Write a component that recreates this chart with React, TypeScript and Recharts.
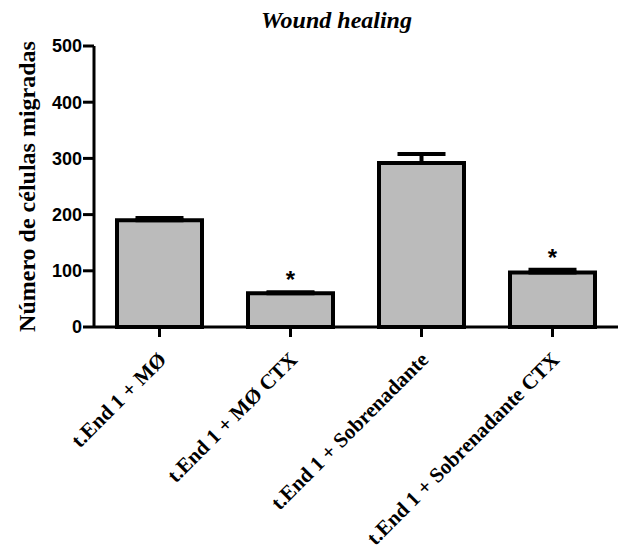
import React from 'react';
import { ComposedChart, Bar, Scatter, XAxis, YAxis, ErrorBar } from 'recharts';

const categories = [
  't.End 1 + MØ',
  't.End 1 + MØ CTX',
  't.End 1 + Sobrenadante',
  't.End 1 + Sobrenadante CTX',
];
const means = [190, 60, 292, 97];
const sem = [4, 2, 16, 5];
const significant = [false, true, false, true];
const yTicks = [0, 100, 200, 300, 400, 500];

const data = categories.map((name, i) => ({
  name,
  value: means[i],
  err: [0, sem[i]],
  star: significant[i] ? means[i] + sem[i] : null,
}));

const SERIF = '"Liberation Serif", "Times New Roman", serif';
const SANS = '"Liberation Sans", Arial, sans-serif';

// rotated category labels under the x axis
const XTick = ({ x, y, payload }: any) => (
  <text
    x={x + 8}
    y={y + 22}
    transform={`rotate(-45, ${x + 8}, ${y + 22})`}
    textAnchor="end"
    fontFamily={SERIF}
    fontWeight="bold"
    fontSize={21}
    fill="#000"
  >
    {payload.value}
  </text>
);

const Star = ({ cx, cy }: any) => {
  if (cx == null || cy == null) return null;
  return (
    <text x={cx} y={cy - 4} textAnchor="middle" fontFamily={SANS} fontWeight="bold" fontSize={24} fill="#000">
      *
    </text>
  );
};

const YLabel = ({ viewBox }: any) => {
  const cy = viewBox.y + viewBox.height / 2;
  return (
    <text
      x={27}
      y={cy}
      transform={`rotate(-90, 27, ${cy})`}
      textAnchor="middle"
      dominantBaseline="central"
      fontFamily={SERIF}
      fontWeight="bold"
      fontSize={24}
      fill="#000"
    >
      Número de células migradas
    </text>
  );
};

export default function App() {
  return (
    <div style={{ position: 'absolute', left: 0, top: 0, width: 619, height: 545, background: '#fff' }}>
      <div
        style={{
          position: 'absolute',
          left: 0,
          width: 619,
          top: 7,
          textAlign: 'center',
          paddingLeft: 54,
          boxSizing: 'border-box',
          fontFamily: SERIF,
          fontWeight: 'bold',
          fontStyle: 'italic',
          fontSize: 24,
        }}
      >
        Wound healing
      </div>
      <ComposedChart width={619} height={545} data={data} margin={{ top: 46, right: 1, bottom: 0, left: 0 }}>
        <XAxis
          dataKey="name"
          interval={0}
          tick={<XTick />}
          tickSize={10}
          axisLine={{ stroke: '#000', strokeWidth: 3 }}
          tickLine={{ stroke: '#000', strokeWidth: 3 }}
          height={218}
        />
        <YAxis
          width={94}
          domain={[0, 500]}
          ticks={yTicks}
          interval={0}
          tickSize={11}
          tickMargin={1}
          axisLine={{ stroke: '#000', strokeWidth: 3 }}
          tickLine={{ stroke: '#000', strokeWidth: 3 }}
          tick={{ fill: '#000', fontFamily: SANS, fontWeight: 'bold', fontSize: 18 }}
          label={<YLabel />}
        />
        <Bar dataKey="value" fill="#bbbbbb" stroke="#000" strokeWidth={4} barSize={85} isAnimationActive={false}>
          <ErrorBar dataKey="err" direction="y" width={24} stroke="#000" strokeWidth={4} />
        </Bar>
        <Scatter dataKey="star" shape={<Star />} isAnimationActive={false} />
      </ComposedChart>
    </div>
  );
}
